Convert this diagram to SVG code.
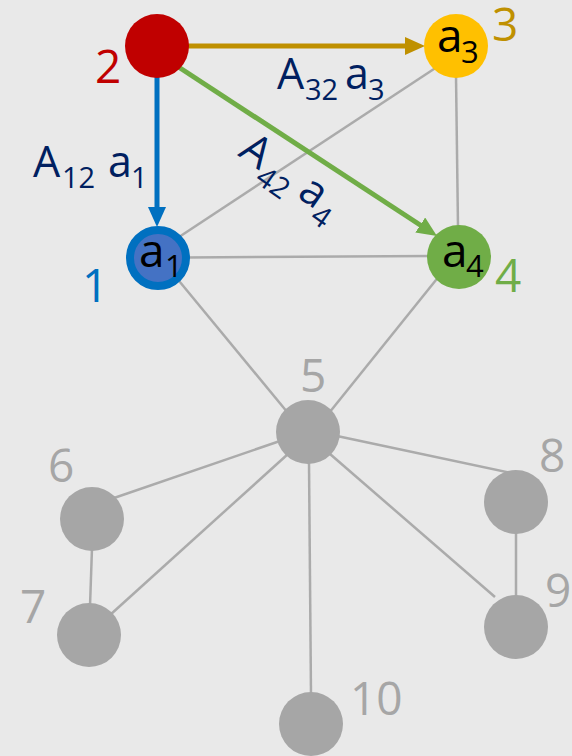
<svg xmlns="http://www.w3.org/2000/svg" width="572" height="756" viewBox="0 0 572 756">
  <defs>
    <style>
      .edge { stroke: #ABABAB; stroke-width: 2.5; fill: none; }
      .gray { fill: #A6A6A6; }
      .num { font-family: "Open Sans", Lato, "DejaVu Sans", sans-serif; font-size: 46px; }
      .lbl { font-family: "Open Sans", Lato, "DejaVu Sans", sans-serif; fill: #002060; }
      .big { font-size: 43px; }
      .sub { font-size: 29px; }
      .in { font-family: "Open Sans", Lato, "DejaVu Sans", sans-serif; fill: #000000; }
      .inbig { font-size: 46px; }
      .insub { font-size: 31px; }
    </style>
    <marker id="headGold" markerUnits="userSpaceOnUse" markerWidth="20" markerHeight="18" refX="10" refY="9" orient="auto">
      <path d="M0,0 L20,9 L0,18 z" fill="#BF9000"/>
    </marker>
    <marker id="headBlue" markerUnits="userSpaceOnUse" markerWidth="20" markerHeight="18" refX="10" refY="9" orient="auto">
      <path d="M0,0 L20,9 L0,18 z" fill="#0070C0"/>
    </marker>
    <marker id="headGreen" markerUnits="userSpaceOnUse" markerWidth="20" markerHeight="18" refX="10" refY="9" orient="auto">
      <path d="M0,0 L20,9 L0,18 z" fill="#70AD47"/>
    </marker>
  </defs>

  <rect width="572" height="756" fill="#E9E9E9"/>

  <!-- undirected gray edges -->
  <g id="edges">
    <line class="edge" x1="440" y1="65" x2="176" y2="239"/>
    <line class="edge" x1="456" y1="76" x2="458" y2="228"/>
    <line class="edge" x1="186" y1="257.5" x2="432" y2="256"/>
    <line class="edge" x1="175" y1="276" x2="288" y2="413"/>
    <line class="edge" x1="440" y1="275" x2="329" y2="413"/>
    <line class="edge" x1="280" y1="441" x2="114" y2="498"/>
    <line class="edge" x1="288" y1="454" x2="110" y2="615"/>
    <line class="edge" x1="337" y1="436" x2="511" y2="473"/>
    <line class="edge" x1="330" y1="454" x2="495" y2="597"/>
    <line class="edge" x1="309" y1="462" x2="311" y2="695"/>
    <line class="edge" x1="92" y1="548" x2="90" y2="606"/>
    <line class="edge" x1="516" y1="530" x2="516" y2="600"/>
  </g>

  <!-- directed coloured connectors -->
  <g id="arrows">
    <line x1="185" y1="46" x2="415" y2="46" stroke="#BF9000" stroke-width="5" marker-end="url(#headGold)"/>
    <line x1="157" y1="74" x2="157" y2="217" stroke="#0070C0" stroke-width="5" marker-end="url(#headBlue)"/>
    <line x1="177" y1="66" x2="428.6" y2="230.5" stroke="#70AD47" stroke-width="5" marker-end="url(#headGreen)"/>
  </g>

  <!-- arrow labels -->
  <g id="arrow-labels">
    <text class="lbl"><tspan class="big" x="33" y="177">A</tspan><tspan class="sub" x="62" y="188">12</tspan><tspan class="big" x="108" y="177">a</tspan><tspan class="sub" x="131" y="188">1</tspan></text>
    <text class="lbl"><tspan class="big" x="277" y="89">A</tspan><tspan class="sub" x="305" y="100">32</tspan><tspan class="big" x="345" y="89">a</tspan><tspan class="sub" x="368" y="100">3</tspan></text>
    <g transform="translate(237,155) rotate(35)">
      <text class="lbl"><tspan class="big" x="0" y="0">A</tspan><tspan class="sub" x="29" y="12">42</tspan><tspan class="big" x="72" y="0">a</tspan><tspan class="sub" x="96" y="12">4</tspan></text>
    </g>
  </g>

  <!-- nodes -->
  <g id="node2">
    <circle cx="157" cy="46" r="32" fill="#C00000"/>
    <text class="num" x="95" y="83" fill="#C00000">2</text>
  </g>
  <g id="node3">
    <circle cx="456" cy="46" r="32" fill="#FFC000"/>
    <text class="in"><tspan class="inbig" x="437" y="52">a</tspan><tspan class="insub" x="461" y="63">3</tspan></text>
    <text class="num" x="492" y="41" fill="#BF9000">3</text>
  </g>
  <g id="node1">
    <circle cx="158" cy="258" r="28" fill="#4472C4" stroke="#0070C0" stroke-width="8"/>
    <text class="in"><tspan class="inbig" x="139" y="267">a</tspan><tspan class="insub" x="165" y="277">1</tspan></text>
    <text class="num" x="82" y="302" fill="#0070C0">1</text>
  </g>
  <g id="node4">
    <circle cx="459" cy="257" r="32" fill="#70AD47"/>
    <text class="in"><tspan class="inbig" x="442" y="267">a</tspan><tspan class="insub" x="466" y="277">4</tspan></text>
    <text class="num" x="495" y="292" fill="#70AD47">4</text>
  </g>
  <g id="node5">
    <circle class="gray" cx="308" cy="432" r="32"/>
    <text class="num gray" x="300" y="392">5</text>
  </g>
  <g id="node6">
    <circle class="gray" cx="92" cy="519" r="32"/>
    <text class="num gray" x="48" y="482">6</text>
  </g>
  <g id="node7">
    <circle class="gray" cx="89" cy="635" r="32"/>
    <text class="num gray" x="20" y="623">7</text>
  </g>
  <g id="node8">
    <circle class="gray" cx="516" cy="502" r="32"/>
    <text class="num gray" x="539" y="472">8</text>
  </g>
  <g id="node9">
    <circle class="gray" cx="516" cy="627" r="32"/>
    <text class="num gray" x="545" y="607">9</text>
  </g>
  <g id="node10">
    <circle class="gray" cx="311" cy="724" r="32"/>
    <text class="num gray" x="350" y="715">10</text>
  </g>
</svg>
